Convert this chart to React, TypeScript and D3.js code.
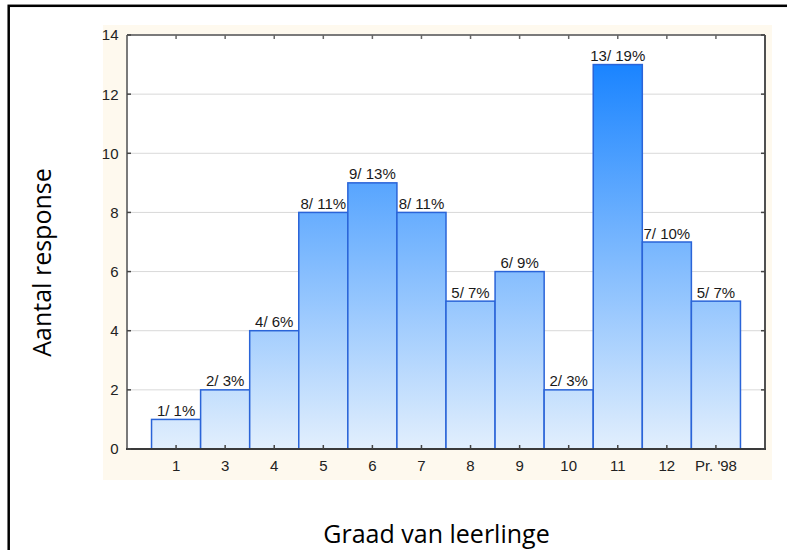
import React from "react";
import * as d3 from "d3";

const categories = ["1", "3", "4", "5", "6", "7", "8", "9", "10", "11", "12", "Pr. '98"];
const counts = [1, 2, 4, 8, 9, 8, 5, 6, 2, 13, 7, 5];
const percents = [1, 3, 6, 11, 13, 11, 7, 9, 3, 19, 10, 7];
const yTicks = [0, 2, 4, 6, 8, 10, 12, 14];
const xTitle = "Graad van leerlinge";
const yTitle = "Aantal response";

const W = 787;
const H = 550;
const plot = { left: 127, right: 765, top: 35, bottom: 449 };

export default function App() {
  const x = d3
    .scaleBand<string>()
    .domain(categories)
    .range([plot.left, plot.right])
    .paddingInner(0)
    .paddingOuter(0.5);
  const y = d3.scaleLinear().domain([0, 14]).range([plot.bottom, plot.top]);
  const bw = x.bandwidth();
  const font = "Arial, 'Liberation Sans', sans-serif";

  return (
    <svg
      width={W}
      height={H}
      style={{ position: "absolute", left: 0, top: 0 }}
      xmlns="http://www.w3.org/2000/svg"
    >
      <defs>
        <linearGradient
          id="barGrad"
          gradientUnits="userSpaceOnUse"
          x1={0}
          x2={0}
          y1={y(0)}
          y2={y(13)}
        >
          <stop offset="0" stopColor="#e2effd" />
          <stop offset="1" stopColor="#1a84ff" />
        </linearGradient>
      </defs>
      <rect x={0} y={0} width={W} height={H} fill="#ffffff" />
      {/* outer frame */}
      <rect x={8.7} y={5.8} width={W + 20} height={H + 20} fill="none" stroke="#000" strokeWidth={2.5} />
      {/* cream panel */}
      <rect x={103} y={25} width={669} height={455} fill="#fef9ee" />
      {/* plot area */}
      <rect
        x={plot.left}
        y={plot.top}
        width={plot.right - plot.left}
        height={plot.bottom - plot.top}
        fill="#ffffff"
      />
      {/* grid */}
      {yTicks
        .filter((t) => t > 0 && t < 14)
        .map((t) => (
          <line
            key={"g" + t}
            x1={plot.left}
            x2={plot.right}
            y1={y(t)}
            y2={y(t)}
            stroke="#d9d9d9"
            strokeWidth={1}
          />
        ))}
      {/* bars */}
      {categories.map((c, i) => (
        <rect
          key={"b" + c}
          x={x(c)!}
          y={y(counts[i])}
          width={bw}
          height={y(0) - y(counts[i])}
          fill="url(#barGrad)"
          stroke="#2a64d8"
          strokeWidth={1.5}
        />
      ))}
      {/* bar labels */}
      {categories.map((c, i) => (
        <text
          key={"l" + c}
          x={x(c)! + bw / 2}
          y={y(counts[i]) - 3.5}
          textAnchor="middle"
          fontFamily={font}
          fontSize={15}
          fill="#1a1a1a"
          stroke="#ffffff"
          strokeWidth={2}
          strokeOpacity={0.7}
          paintOrder="stroke"
        >
          {`${counts[i]}/ ${percents[i]}%`}
        </text>
      ))}
      {/* axis frame */}
      <line x1={plot.left} x2={plot.right} y1={plot.top} y2={plot.top} stroke="#7a7a7a" strokeWidth={2} />
      <line x1={plot.left} x2={plot.left} y1={plot.top} y2={plot.bottom} stroke="#7a7a7a" strokeWidth={2} />
      <line x1={plot.right} x2={plot.right} y1={plot.top} y2={plot.bottom + 1} stroke="#505050" strokeWidth={2} />
      <line x1={plot.left - 1} x2={plot.right + 1} y1={plot.bottom} y2={plot.bottom} stroke="#3a3a3a" strokeWidth={2} />
      {/* x ticks */}
      {categories.map((c) => {
        const cx = x(c)! + bw / 2;
        return (
          <g key={"xt" + c}>
            <line x1={cx} x2={cx} y1={plot.bottom} y2={plot.bottom - 4} stroke="#444" strokeWidth={1.5} />
            <line x1={cx} x2={cx} y1={plot.top} y2={plot.top + 4} stroke="#666" strokeWidth={1.5} />
            <text x={cx} y={471} textAnchor="middle" fontFamily={font} fontSize={15} fill="#222">
              {c}
            </text>
          </g>
        );
      })}
      {/* y ticks */}
      {yTicks.map((t) => (
        <g key={"yt" + t}>
          <line x1={plot.left} x2={plot.left + 4} y1={y(t)} y2={y(t)} stroke="#444" strokeWidth={1.5} />
          <line x1={plot.right} x2={plot.right - 4} y1={y(t)} y2={y(t)} stroke="#444" strokeWidth={1.5} />
          <text x={118.5} y={y(t) + 5.4} textAnchor="end" fontFamily={font} fontSize={15} fill="#222">
            {t}
          </text>
        </g>
      ))}
      {/* titles */}
      <text
        x={436.5}
        y={543}
        textAnchor="middle"
        fontFamily="'Open Sans', 'Noto Sans', sans-serif"
        fontSize={25}
        fill="#000"
      >
        {xTitle}
      </text>
      <text
        transform={`translate(51,262.5) rotate(-90)`}
        textAnchor="middle"
        fontFamily="'Open Sans', 'Noto Sans', sans-serif"
        fontSize={25}
        fill="#000"
      >
        {yTitle}
      </text>
    </svg>
  );
}
